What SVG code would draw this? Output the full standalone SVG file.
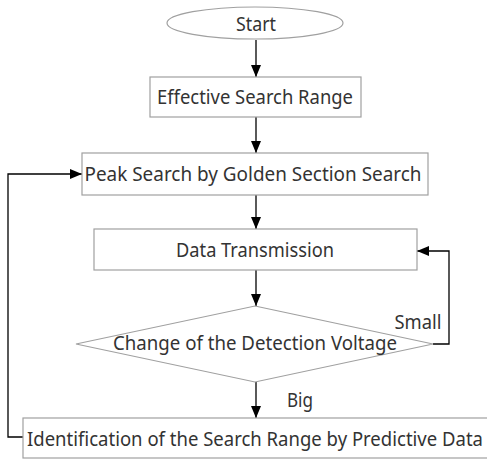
<svg xmlns="http://www.w3.org/2000/svg" width="487" height="462" viewBox="0 0 487 462">
  <style>
    .shape { fill: #ffffff; stroke: #a0a0a0; stroke-width: 1.2; }
    .label { font-family: "Noto Sans", "Liberation Sans", sans-serif; font-size: 20px; fill: #333333; text-anchor: middle; }
    .edge { fill: none; stroke: #000000; stroke-width: 1.3; }
  </style>
  <defs>
    <marker id="arrow" viewBox="0 0 12 10" refX="12" refY="5" markerWidth="12" markerHeight="10" markerUnits="userSpaceOnUse" orient="auto">
      <path d="M0,0 L12,5 L0,10 Z" fill="#000000"/>
    </marker>
  </defs>

  <rect width="487" height="462" fill="#ffffff"/>

  <g id="connectors">
    <path class="edge" d="M256,40 V77" marker-end="url(#arrow)"/>
    <path class="edge" d="M256,117 V153" marker-end="url(#arrow)"/>
    <path class="edge" d="M256,195 V229" marker-end="url(#arrow)"/>
    <path class="edge" d="M256,270 V306" marker-end="url(#arrow)"/>
    <path class="edge" d="M256,382 V418" marker-end="url(#arrow)"/>
    <path class="edge" d="M433,344 H449 V251 H417" marker-end="url(#arrow)"/>
    <path class="edge" d="M23,437 H8 V174 H82" marker-end="url(#arrow)"/>
  </g>

  <g id="start">
    <ellipse class="shape" cx="255" cy="23" rx="88" ry="16"/>
    <text class="label" x="256" y="31" textLength="40" lengthAdjust="spacingAndGlyphs">Start</text>
  </g>

  <g id="effective-range">
    <rect class="shape" x="150" y="77" width="211" height="40"/>
    <text class="label" x="255" y="104" textLength="196" lengthAdjust="spacingAndGlyphs">Effective Search Range</text>
  </g>

  <g id="peak-search">
    <rect class="shape" x="82" y="153" width="346" height="42"/>
    <text class="label" x="253" y="181" textLength="337" lengthAdjust="spacingAndGlyphs">Peak Search by Golden Section Search</text>
  </g>

  <g id="data-transmission">
    <rect class="shape" x="94" y="229" width="323" height="41"/>
    <text class="label" x="255" y="257" textLength="158" lengthAdjust="spacingAndGlyphs">Data Transmission</text>
  </g>

  <g id="voltage-change">
    <polygon class="shape" points="255,306 433,344 255,382 76,344"/>
    <text class="label" x="255" y="350" textLength="284" lengthAdjust="spacingAndGlyphs">Change of the Detection Voltage</text>
  </g>

  <g id="search-range">
    <rect class="shape" x="23" y="418" width="470" height="40"/>
    <text class="label" x="255" y="446" textLength="456" lengthAdjust="spacingAndGlyphs">Identification of the Search Range by Predictive Data</text>
  </g>

  <g id="edge-labels">
    <text class="label" x="418" y="329" textLength="47" lengthAdjust="spacingAndGlyphs">Small</text>
    <text class="label" x="300" y="407" textLength="26" lengthAdjust="spacingAndGlyphs">Big</text>
  </g>
</svg>
